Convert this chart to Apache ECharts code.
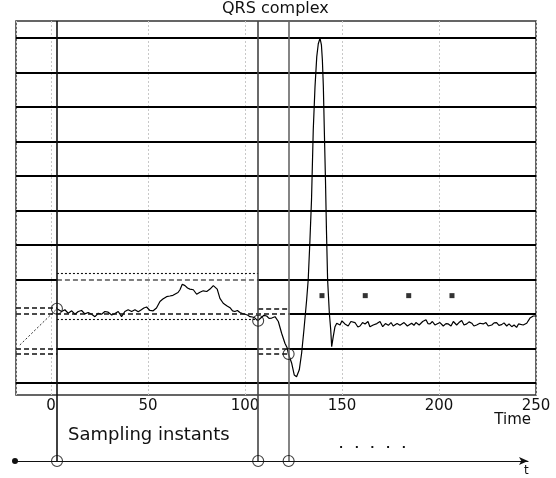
<!DOCTYPE html>
<html>
<head>
<meta charset="utf-8">
<script src="https://cdn.jsdelivr.net/npm/echarts@6/dist/echarts.min.js"></script>
<style>html,body{margin:0;background:#fff}#chart{width:556px;height:478px}</style>
</head>
<body>
<div id="chart"></div>
<script>
// axis ranges (time units / quantization levels)
var xMin = -18, xMax = 250;
var yMin = -0.35, yMax = 10.49;
var tMin = -18.56, tMax = 245.9;   // lower time axis "t"

// quantization levels drawn solid across the whole plot
var fullLevels = [0, 4, 5, 6, 7, 8, 9, 10];

// sampling instants and the sampled values
var instants = [3.1, 106.8, 122.5];
var samples = [2.15, 1.80, 0.84];
var instantColors = ['#111', '#444', '#666'];

// partial level segments [x0, x1, y]
var solidSegs = [[xMin, 3.1, 3], [106.8, xMax, 3], [3.1, 106.8, 1], [122.5, xMax, 1], [122.5, xMax, 2]];
var dashSegs = [[xMin, 122.5, 2], [xMin, 3.1, 1], [106.8, 122.5, 1], [xMin, 3.1, 2.165], [xMin, 3.1, 0.85],
                [106.8, 122.5, 2.14], [106.8, 122.5, 0.84]];
var grayDashSegs = [[3.1, 106.8, 3]];
var dotSegs = [[3.1, 106.8, 3.18], [3.1, 106.8, 1.855]];
var diagonal = [[-16, 1.10], [3.1, 2.15]];

// future sampling marks
var futureT = [139.7, 162.0, 184.4, 206.7];
var futureLevel = 2.53;

// ECG trace
var ecg = [
[3.1,2.15],[5.5,2.07],[7.2,2.12],[8.9,2.02],[10.7,2.09],[12.4,1.99],[14.1,2.07],[15.8,2.10],[17.5,2.00],
[19.2,2.04],[21.0,1.99],[22.7,1.92],[24.4,2.02],[26.1,1.99],[27.8,2.07],[29.5,2.05],[31.3,1.97],[33.0,2.01],
[34.7,2.07],[36.4,1.92],[38.1,2.07],[39.8,2.12],[41.6,2.07],[43.3,2.12],[45.0,2.06],[46.6,2.12],[47.9,2.17],
[49.3,2.20],[51.0,2.10],[52.7,2.09],[54.4,2.17],[56.2,2.36],[57.7,2.43],[59.6,2.50],[61.3,2.52],[62.9,2.54],
[63.9,2.57],[65.5,2.62],[66.5,2.70],[67.7,2.86],[69.1,2.82],[70.4,2.75],[71.6,2.72],[73.4,2.70],[75.1,2.57],
[76.8,2.63],[78.5,2.67],[80.3,2.65],[82.0,2.72],[83.7,2.82],[84.7,2.86],[85.7,2.72],[87.1,2.45],[88.8,2.31],
[90.6,2.24],[92.3,2.18],[93.6,2.09],[94.8,2.07],[96.1,2.10],[97.4,2.04],[98.7,2.01],[100.0,1.99],[101.3,1.97],
[102.6,1.92],[103.9,1.91],[105.2,1.88],[106.6,1.80],[107.7,1.86],[108.6,1.90],[109.8,1.96],[111.2,1.94],
[112.4,1.87],[113.8,1.88],[115.5,1.92],[117.2,1.78],[118.9,1.44],[120.6,1.15],[121.8,1.01],[122.4,0.84],
[124.1,0.57],[125.4,0.23],[126.6,0.18],[128.0,0.38],[129.2,0.86],[130.4,1.54],[131.8,2.41],[132.6,2.99],
[133.5,4.14],[134.3,5.30],[135.2,7.33],[136.1,8.58],[137.0,9.45],[137.8,9.83],[138.7,9.99],[139.4,9.80],
[139.9,9.36],[140.4,8.59],[140.9,7.33],[141.5,5.88],[142.0,4.43],[142.6,2.99],[143.5,2.02],[144.2,1.54],
[144.7,1.05],[145.5,1.34],[146.4,1.63],[147.3,1.73],[149.0,1.68],[150.0,1.80],[151.5,1.71],[153.2,1.65],
[154.6,1.78],[156.7,1.75],[158.2,1.62],[159.3,1.65],[160.6,1.75],[161.9,1.71],[163.4,1.78],[164.4,1.63],
[166.1,1.68],[168.0,1.72],[169.6,1.78],[171.0,1.63],[172.4,1.72],[173.9,1.67],[175.3,1.75],[176.4,1.65],
[178.4,1.72],[179.9,1.67],[182.0,1.75],[183.7,1.65],[185.9,1.73],[187.1,1.67],[188.1,1.75],[189.8,1.68],
[191.6,1.78],[193.3,1.83],[194.3,1.72],[195.4,1.71],[196.6,1.78],[197.9,1.68],[200.5,1.75],[202.2,1.65],
[203.6,1.72],[204.8,1.71],[206.2,1.65],[207.4,1.78],[209.1,1.68],[210.3,1.75],[211.7,1.81],[212.9,1.68],
[214.3,1.71],[215.5,1.77],[216.9,1.73],[218.0,1.65],[219.4,1.68],[221.1,1.73],[222.8,1.71],[224.2,1.75],
[225.4,1.65],[227.2,1.68],[228.4,1.74],[229.7,1.75],[230.9,1.67],[232.3,1.69],[233.5,1.74],[234.9,1.65],
[236.1,1.71],[237.5,1.63],[238.7,1.68],[240.0,1.61],[241.0,1.71],[241.8,1.71],[243.4,1.68],[245.2,1.73],
[246.9,1.88],[248.6,1.94],[250.0,1.94]
];

var font = 'DejaVu Sans';

function seg(list) {
    return list.map(function (s) { return [{coord: [s[0], s[2]]}, {coord: [s[1], s[2]]}]; });
}
function segLine(list, style) {
    return {
        type: 'line', data: [], xAxisIndex: 0, yAxisIndex: 0, silent: true,
        markLine: {symbol: 'none', silent: true, animation: false, label: {show: false},
            lineStyle: style, data: seg(list)}
    };
}

var chart = echarts.init(document.getElementById('chart'));
var option = {
    animation: false,
    backgroundColor: '#fff',
    title: {text: 'QRS complex', left: 222, top: 1, padding: 0,
        textStyle: {fontFamily: font, fontSize: 16, fontWeight: 'normal', color: '#111'}},
    grid: [
        {left: 16, right: 20, top: 21, bottom: 83, show: true, borderColor: '#333', borderWidth: 1.5,
            containLabel: false, outerBoundsMode: 'none'},
        {left: 15, right: 28, top: 21, bottom: 17, containLabel: false, outerBoundsMode: 'none'}
    ],
    xAxis: [
        {gridIndex: 0, type: 'value', min: xMin, max: xMax,
            axisLine: {show: true, lineStyle: {color: '#333', width: 1.5}},
            axisTick: {show: false},
            axisLabel: {showMinLabel: false, margin: 4, fontFamily: font, fontSize: 15, color: '#111'},
            splitLine: {show: true, lineStyle: {color: '#c8c8c8', type: [2, 2], width: 1}}},
        {gridIndex: 1, type: 'value', min: tMin, max: tMax,
            axisLine: {show: true, symbol: ['circle', 'arrow'], symbolSize: [6, 9], lineStyle: {color: '#111', width: 1.2}},
            axisTick: {show: false}, axisLabel: {show: false}, splitLine: {show: false}}
    ],
    yAxis: [
        {gridIndex: 0, type: 'value', min: yMin, max: yMax, show: false, splitLine: {show: false}},
        {gridIndex: 1, type: 'value', min: 0, max: 1, show: false, splitLine: {show: false}}
    ],
    graphic: [
        {type: 'text', right: 25, top: 413, style: {text: 'Time', font: '15px "DejaVu Sans"', fill: '#111'}},
        {type: 'text', left: 68, top: 426, style: {text: 'Sampling instants', font: '18px "DejaVu Sans"', fill: '#111'}},
        {type: 'text', left: 339, top: 440, style: {text: '.   .   .   .   .', font: 'bold 11px "DejaVu Sans"', fill: '#111'}},
        {type: 'text', left: 524, top: 465, style: {text: 't', font: '12px "DejaVu Sans"', fill: '#111'}}
    ],
    series: [
        {
            type: 'line', data: [], silent: true,
            markLine: {symbol: 'none', silent: true, animation: false, label: {show: false},
                lineStyle: {color: '#000', width: 1.8, type: 'solid'},
                data: fullLevels.map(function (v) { return {yAxis: v}; })}
        },
        segLine(solidSegs, {color: '#000', width: 1.8, type: 'solid'}),
        segLine(dashSegs, {color: '#111', width: 1.5, type: [5, 3]}),
        segLine(grayDashSegs, {color: '#555', width: 1.7, type: [5, 3]}),
        segLine(dotSegs, {color: '#111', width: 1.1, type: [2, 2]}),
        {
            type: 'line', data: diagonal, symbol: 'none', silent: true,
            lineStyle: {color: '#333', width: 1, type: [2, 2]}
        },
        {
            type: 'line', data: ecg, symbol: 'none', silent: true,
            lineStyle: {color: '#000', width: 1.2}
        },
        {
            type: 'scatter', data: futureT.map(function (t) { return [t, futureLevel]; }),
            symbol: 'rect', symbolSize: 5, itemStyle: {color: '#000'}, silent: true
        },
        {
            type: 'scatter', data: instants.map(function (t, i) { return [t, samples[i]]; }),
            symbol: 'circle', symbolSize: 11, silent: true, z: 5,
            itemStyle: {color: 'transparent', borderColor: '#111', borderWidth: 1.1}
        },
        {
            type: 'line', data: [], xAxisIndex: 1, yAxisIndex: 1, silent: true,
            markLine: {symbol: 'none', silent: true, animation: false, label: {show: false},
                data: instants.map(function (t, i) {
                    return {xAxis: t, lineStyle: {color: instantColors[i], width: 1.6, type: 'solid'}};
                })}
        },
        {
            type: 'scatter', xAxisIndex: 1, yAxisIndex: 1, silent: true, clip: false, z: 5,
            data: instants.map(function (t) { return [t, 0]; }),
            symbol: 'circle', symbolSize: 11,
            itemStyle: {color: 'transparent', borderColor: '#111', borderWidth: 1.1}
        }
    ]
};
chart.setOption(option);
</script>
</body>
</html>
